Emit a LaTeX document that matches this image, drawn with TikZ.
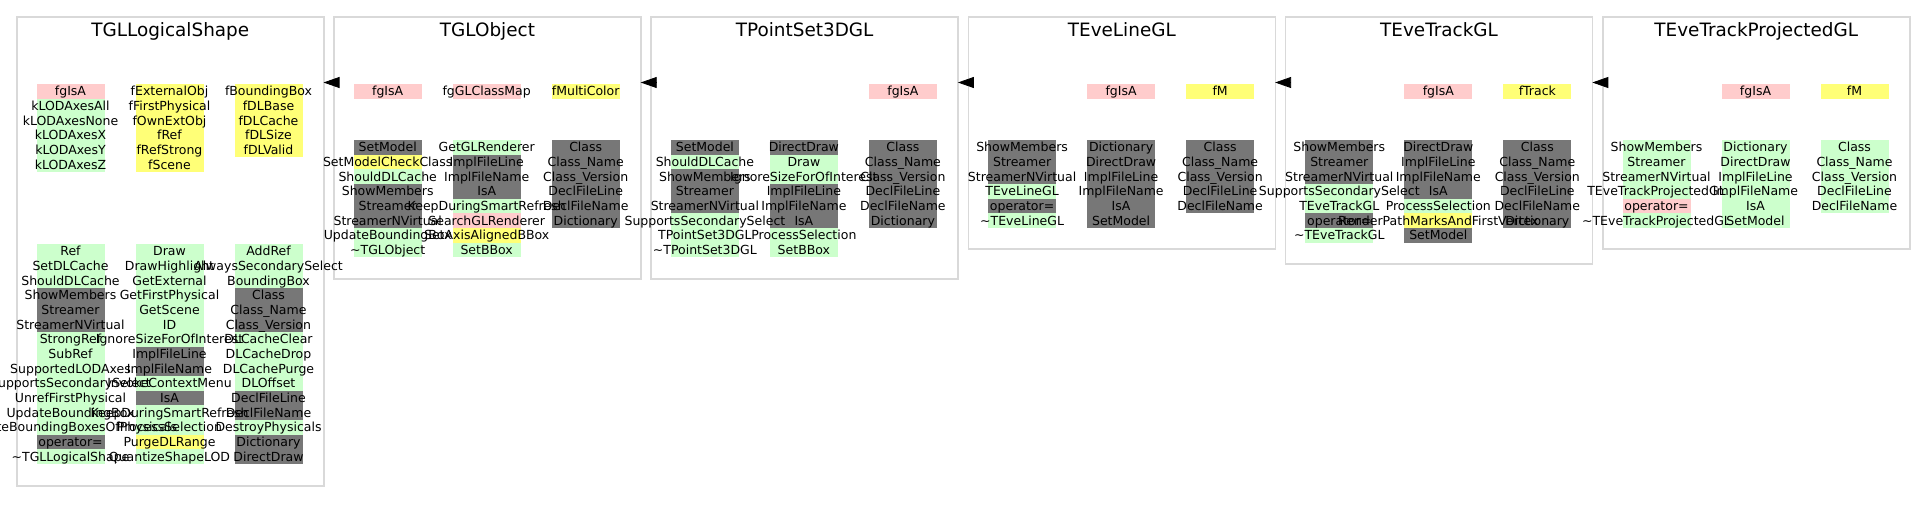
\documentclass[tikz,border=0pt]{standalone}
\usepackage{fontspec}
\setmainfont{DejaVu Sans}
\usetikzlibrary{arrows.meta}
\definecolor{gn}{HTML}{CCFFCC}
\definecolor{pk}{HTML}{FFCCCC}
\definecolor{yl}{HTML}{FFFF77}
\definecolor{gy}{HTML}{777777}
\definecolor{framegray}{HTML}{D9D9D9}
\pgfdeclarelayer{background}
\pgfsetlayers{background,main}

% one column of members: name, x centre, y top, list of colour/text
\newcommand{\memcol}[4]{%
  \foreach \c/\t [count=\i] in {#4} {
    \begin{pgfonlayer}{background}
      \fill[\c] (#2-34,#3+\i*14.67-14.67) rectangle ++(68,14.67);
    \end{pgfonlayer}
    \node[member, name=#1-\i] at (#2,#3+\i*14.67-2.77) {\t};
  }}

\begin{document}
\begin{tikzpicture}[x=1pt, y=-1pt,
	panel/.style = {draw=framegray, line width=1.5pt, minimum width=307pt,
		anchor=north west, inner sep=0},
	title/.style = {font=\fontsize{18.4}{22}\selectfont, anchor=base, inner sep=0},
	member/.style = {font=\fontsize{12.5}{15}\selectfont, anchor=base, inner sep=0},
	inherit/.style = {-{Triangle[length=16pt,width=11pt]}, line width=0.8pt}]
	\useasboundingbox (0,0) rectangle (1925,512);

	\node[panel, minimum height=469pt] (logical) at (16,16) {};
	\node[panel, minimum height=262pt] (globj) at (333.2,16) {};
	\node[panel, minimum height=262pt] (pointset) at (650.4,16) {};
	\node[panel, minimum height=232pt] (eveline) at (967.6,16) {};
	\node[panel, minimum height=247pt] (evetrack) at (1284.8,16) {};
	\node[panel, minimum height=232pt] (trackproj) at (1602,16) {};

	\node[title] (logical-title) at ([yshift=-20.7pt]logical.north) {TGLLogicalShape};
	\node[title] (globj-title) at ([yshift=-20.7pt]globj.north) {TGLObject};
	\node[title] (pointset-title) at ([yshift=-20.7pt]pointset.north) {TPointSet3DGL};
	\node[title] (eveline-title) at ([yshift=-20.7pt]eveline.north) {TEveLineGL};
	\node[title] (evetrack-title) at ([yshift=-20.7pt]evetrack.north) {TEveTrackGL};
	\node[title] (trackproj-title) at ([yshift=-20.7pt]trackproj.north) {TEveTrackProjectedGL};

	% TGLLogicalShape
	\memcol{logical-d1}{70.5}{84}{pk/fgIsA, gn/kLODAxesAll, gn/kLODAxesNone, gn/kLODAxesX, gn/kLODAxesY, gn/kLODAxesZ}
	\memcol{logical-d2}{169.5}{84}{yl/fExternalObj, yl/fFirstPhysical, yl/fOwnExtObj, yl/fRef, yl/fRefStrong, yl/fScene}
	\memcol{logical-d3}{268.5}{84}{yl/fBoundingBox, yl/fDLBase, yl/fDLCache, yl/fDLSize, yl/fDLValid}
	\memcol{logical-m1}{70.5}{244}{gn/Ref, gn/SetDLCache, gn/ShouldDLCache, gy/ShowMembers, gy/Streamer, gy/StreamerNVirtual, gn/StrongRef, gn/SubRef, gn/SupportedLODAxes, gn/SupportsSecondarySelect, gn/UnrefFirstPhysical, gn/UpdateBoundingBox, gn/UpdateBoundingBoxesOfPhysicals, gy/operator=, gn/\textasciitilde TGLLogicalShape}
	\memcol{logical-m2}{169.5}{244}{gn/Draw, gn/DrawHighlight, gn/GetExternal, gn/GetFirstPhysical, gn/GetScene, gn/ID, gn/IgnoreSizeForOfInterest, gy/ImplFileLine, gy/ImplFileName, gn/InvokeContextMenu, gy/IsA, gn/KeepDuringSmartRefresh, gn/ProcessSelection, yl/PurgeDLRange, gn/QuantizeShapeLOD}
	\memcol{logical-m3}{268.5}{244}{gn/AddRef, gn/AlwaysSecondarySelect, gn/BoundingBox, gy/Class, gy/Class\_Name, gy/Class\_Version, gn/DLCacheClear, gn/DLCacheDrop, gn/DLCachePurge, gn/DLOffset, gy/DeclFileLine, gy/DeclFileName, gn/DestroyPhysicals, gy/Dictionary, gy/DirectDraw}

	% TGLObject
	\memcol{globj-d1}{387.7}{84}{pk/fgIsA}
	\memcol{globj-d2}{486.7}{84}{pk/fgGLClassMap}
	\memcol{globj-d3}{585.7}{84}{yl/fMultiColor}
	\memcol{globj-m1}{387.7}{140}{gy/SetModel, yl/SetModelCheckClass, gn/ShouldDLCache, gy/ShowMembers, gy/Streamer, gy/StreamerNVirtual, gn/UpdateBoundingBox, gn/\textasciitilde TGLObject}
	\memcol{globj-m2}{486.7}{140}{gn/GetGLRenderer, gy/ImplFileLine, gy/ImplFileName, gy/IsA, gn/KeepDuringSmartRefresh, pk/SearchGLRenderer, yl/SetAxisAlignedBBox, gn/SetBBox}
	\memcol{globj-m3}{585.7}{140}{gy/Class, gy/Class\_Name, gy/Class\_Version, gy/DeclFileLine, gy/DeclFileName, gy/Dictionary}

	% TPointSet3DGL
	\memcol{pointset-d3}{902.9}{84}{pk/fgIsA}
	\memcol{pointset-m1}{704.9}{140}{gy/SetModel, gn/ShouldDLCache, gy/ShowMembers, gy/Streamer, gy/StreamerNVirtual, gn/SupportsSecondarySelect, gn/TPointSet3DGL, gn/\textasciitilde TPointSet3DGL}
	\memcol{pointset-m2}{803.9}{140}{gy/DirectDraw, gn/Draw, gn/IgnoreSizeForOfInterest, gy/ImplFileLine, gy/ImplFileName, gy/IsA, gn/ProcessSelection, gn/SetBBox}
	\memcol{pointset-m3}{902.9}{140}{gy/Class, gy/Class\_Name, gy/Class\_Version, gy/DeclFileLine, gy/DeclFileName, gy/Dictionary}

	% TEveLineGL
	\memcol{eveline-d2}{1121.1}{84}{pk/fgIsA}
	\memcol{eveline-d3}{1220.1}{84}{yl/fM}
	\memcol{eveline-m1}{1022.1}{140}{gy/ShowMembers, gy/Streamer, gy/StreamerNVirtual, gn/TEveLineGL, gy/operator=, gn/\textasciitilde TEveLineGL}
	\memcol{eveline-m2}{1121.1}{140}{gy/Dictionary, gy/DirectDraw, gy/ImplFileLine, gy/ImplFileName, gy/IsA, gy/SetModel}
	\memcol{eveline-m3}{1220.1}{140}{gy/Class, gy/Class\_Name, gy/Class\_Version, gy/DeclFileLine, gy/DeclFileName}

	% TEveTrackGL
	\memcol{evetrack-d2}{1438.3}{84}{pk/fgIsA}
	\memcol{evetrack-d3}{1537.3}{84}{yl/fTrack}
	\memcol{evetrack-m1}{1339.3}{140}{gy/ShowMembers, gy/Streamer, gy/StreamerNVirtual, gn/SupportsSecondarySelect, gn/TEveTrackGL, gy/operator=, gn/\textasciitilde TEveTrackGL}
	\memcol{evetrack-m2}{1438.3}{140}{gy/DirectDraw, gy/ImplFileLine, gy/ImplFileName, gy/IsA, gn/ProcessSelection, yl/RenderPathMarksAndFirstVertex, gy/SetModel}
	\memcol{evetrack-m3}{1537.3}{140}{gy/Class, gy/Class\_Name, gy/Class\_Version, gy/DeclFileLine, gy/DeclFileName, gy/Dictionary}

	% TEveTrackProjectedGL
	\memcol{trackproj-d2}{1755.5}{84}{pk/fgIsA}
	\memcol{trackproj-d3}{1854.5}{84}{yl/fM}
	\memcol{trackproj-m1}{1656.5}{140}{gn/ShowMembers, gn/Streamer, gn/StreamerNVirtual, gn/TEveTrackProjectedGL, pk/operator=, gn/\textasciitilde TEveTrackProjectedGL}
	\memcol{trackproj-m2}{1755.5}{140}{gn/Dictionary, gn/DirectDraw, gn/ImplFileLine, gn/ImplFileName, gn/IsA, gn/SetModel}
	\memcol{trackproj-m3}{1854.5}{140}{gn/Class, gn/Class\_Name, gn/Class\_Version, gn/DeclFileLine, gn/DeclFileName}

	% inheritance
	\draw[inherit] ([shift={(5pt,-66.5pt)}]globj.north west) -- ([shift={(-1pt,-66.5pt)}]logical.north east);
	\draw[inherit] ([shift={(5pt,-66.5pt)}]pointset.north west) -- ([shift={(-1pt,-66.5pt)}]globj.north east);
	\draw[inherit] ([shift={(5pt,-66.5pt)}]eveline.north west) -- ([shift={(-1pt,-66.5pt)}]pointset.north east);
	\draw[inherit] ([shift={(5pt,-66.5pt)}]evetrack.north west) -- ([shift={(-1pt,-66.5pt)}]eveline.north east);
	\draw[inherit] ([shift={(5pt,-66.5pt)}]trackproj.north west) -- ([shift={(-1pt,-66.5pt)}]evetrack.north east);
\end{tikzpicture}
\end{document}
